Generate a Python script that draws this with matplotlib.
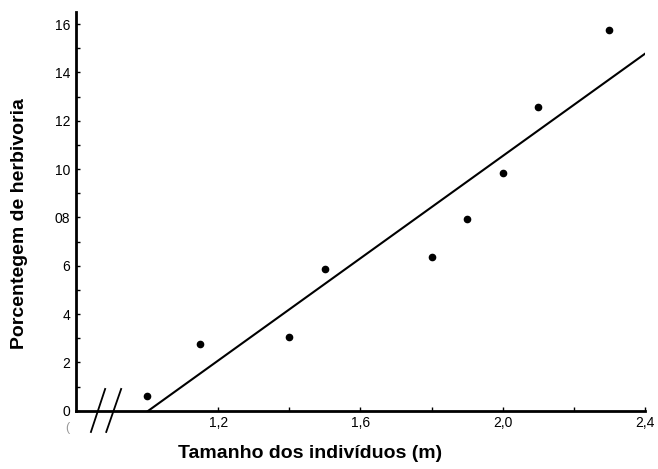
import numpy as np
import matplotlib
matplotlib.use("Agg")
import matplotlib.pyplot as plt

plt.rcParams['font.family'] = ['Liberation Sans', 'DejaVu Sans']

# tamanho (m) x porcentagem de herbivoria
tamanho = [1.0, 1.15, 1.4, 1.5, 1.8, 1.9, 2.0, 2.1, 2.3]
herbivoria = [0.6, 2.75, 3.05, 5.85, 6.35, 7.95, 9.85, 12.55, 15.75]

x_ticks = [1.2, 1.6, 2.0, 2.4]
x_labels = ['1,2', '1,6', '2,0', '2,4']
y_ticks = [0, 2, 4, 6, 8, 10, 12, 14, 16]
y_labels = ['0', '2', '4', '6', '08', '10', '12', '14', '16']

fig = plt.figure(figsize=(6.58, 4.69), dpi=100)
ax = fig.add_axes([0.1155, 0.1243, 0.8645, 0.8501])

ax.plot(tamanho, herbivoria, 'o', color='black', markersize=4.5)

# reta de regressao
coef = np.polyfit(tamanho, herbivoria, 1)
fit_x = np.array([1.0, 2.4])
ax.plot(fit_x, np.polyval(coef, fit_x), color='black', linewidth=1.5)

ax.set_xlim(0.8, 2.4)
ax.set_ylim(0, 16.5)

ax.set_xticks(x_ticks)
ax.set_xticklabels(x_labels)
ax.set_xticks([1.4, 1.8, 2.2], minor=True)
ax.set_yticks(y_ticks)
ax.set_yticklabels(y_labels)
ax.set_yticks([1, 3, 5, 7, 9, 11, 13, 15], minor=True)
ax.tick_params(which='both', direction='in', length=3, width=1, labelsize=10, pad=4)

for s in ['top', 'right']:
    ax.spines[s].set_visible(False)
for s in ['left', 'bottom']:
    ax.spines[s].set_linewidth(2)

# quebra do eixo x
ax.plot([0.842, 0.882], [-0.88, 0.90], color='black', lw=1.3, clip_on=False)
ax.plot([0.885, 0.927], [-0.88, 0.90], color='black', lw=1.3, clip_on=False)
ax.text(0.775, -0.45, '(', fontsize=9, color='#999999', ha='center', va='top')

fig.text(0.471, 0.032, 'Tamanho dos indivíduos (m)', fontsize=14, fontweight='bold',
         ha='center', va='center')
fig.text(0.029, 0.524, 'Porcentegem de herbivoria', fontsize=14, fontweight='bold',
         ha='center', va='center', rotation=90)

fig.savefig('out.png', dpi=100)
